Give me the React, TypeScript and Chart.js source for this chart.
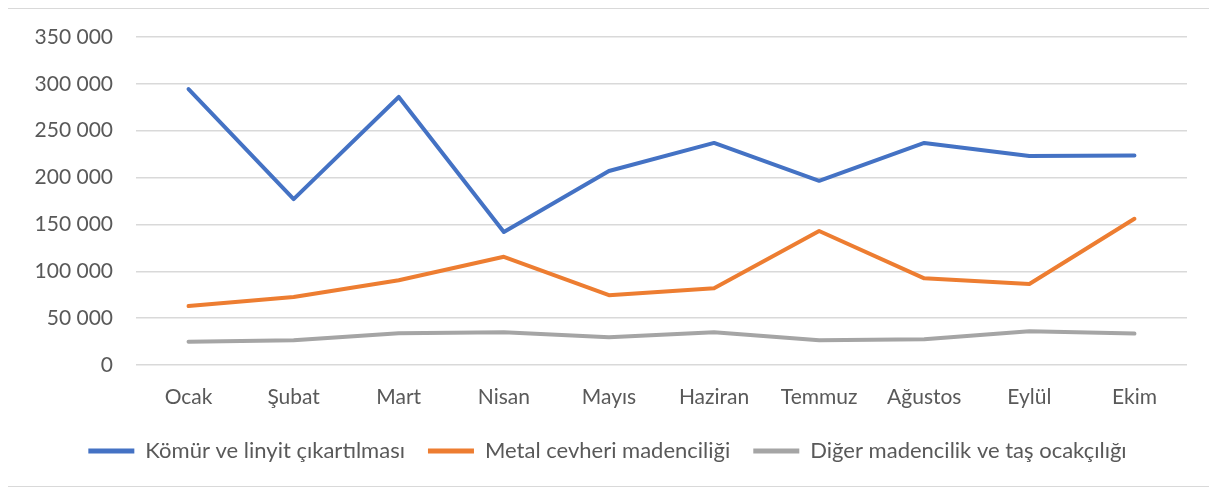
import React, { useEffect, useRef } from "react";
import { Chart, registerables } from "chart.js";

Chart.register(...registerables);

const categories = ["Ocak", "Şubat", "Mart", "Nisan", "Mayıs", "Haziran", "Temmuz", "Ağustos", "Eylül", "Ekim"];
const komur = [294500, 177000, 286000, 142000, 207000, 237000, 196500, 237000, 223000, 223500];
const metal = [63000, 72500, 90500, 115500, 74500, 82000, 143000, 92500, 86500, 156000];
const diger = [24800, 26500, 34000, 35000, 29500, 35000, 26500, 27500, 36000, 33500];
const seriesNames = ["Kömür ve linyit çıkartılması", "Metal cevheri madenciliği", "Diğer madencilik ve taş ocakçılığı"];
const yTicks = [0, 50000, 100000, 150000, 200000, 250000, 300000, 350000];

const colors = ["#4472C4", "#ED7D31", "#A5A5A5"];
const FONT = "Lato, 'Open Sans', sans-serif";

function fmt(v: number) {
  return String(v).replace(/\B(?=(\d{3})+(?!\d))/g, " ");
}

export default function App() {
  const ref = useRef<HTMLCanvasElement | null>(null);
  useEffect(() => {
    if (!ref.current) return;
    const data = [komur, metal, diger];
    const chart = new Chart(ref.current, {
      type: "line",
      data: {
        labels: categories,
        datasets: data.map((d, i) => ({
          label: seriesNames[i],
          data: d,
          borderColor: colors[i],
          backgroundColor: colors[i],
          borderWidth: 4,
          pointRadius: 0,
          pointHoverRadius: 0,
          borderCapStyle: "round" as const,
          borderJoinStyle: "round" as const,
          tension: 0,
        })),
      },
      options: {
        animation: false,
        responsive: false,
        maintainAspectRatio: false,
        layout: { padding: { left: 20, right: 29, top: 28, bottom: 14 } },
        plugins: {
          tooltip: { enabled: false },
          legend: {
            position: "bottom",
            labels: {
              color: "#595959",
              font: { family: FONT, size: 22 },
              boxWidth: 46,
              boxHeight: 5,
              padding: 23,
              generateLabels: (c: any) =>
                Chart.defaults.plugins.legend.labels.generateLabels(c).map((l: any) => ({
                  ...l,
                  lineWidth: 0,
                  fillStyle: l.strokeStyle,
                })),
            },
          },
        },
        scales: {
          x: {
            offset: true,
            grid: { display: false, drawTicks: false },
            border: { display: false },
            ticks: { color: "#595959", font: { family: FONT, size: 21 }, padding: 20 },
            afterFit: (s: any) => {
              s.height = 52;
              s.paddingLeft = 0;
              s.paddingRight = 0;
            },
          },
          y: {
            min: 0,
            max: 350000,
            afterBuildTicks: (s: any) => {
              s.ticks = yTicks.map((v) => ({ value: v }));
            },
            grid: { color: "#D9D9D9", lineWidth: 1.5, drawTicks: false },
            border: { display: false },
            ticks: {
              color: "#595959",
              font: { family: FONT, size: 21 },
              padding: 23,
              callback: (v: any) => fmt(Number(v)),
            },
            afterFit: (s: any) => {
              s.width = 108;
              s.paddingTop = 0;
              s.paddingBottom = 0;
            },
          },
        },
      },
    });
    return () => chart.destroy();
  }, []);
  return (
    <div
      style={{
        marginLeft: -1,
        width: 1210,
        height: 479,
        border: "1px solid #D9D9D9",
        boxSizing: "border-box",
        background: "#fff",
      }}
    >
      <canvas ref={ref} width={1208} height={477} style={{ display: "block" }} />
    </div>
  );
}
